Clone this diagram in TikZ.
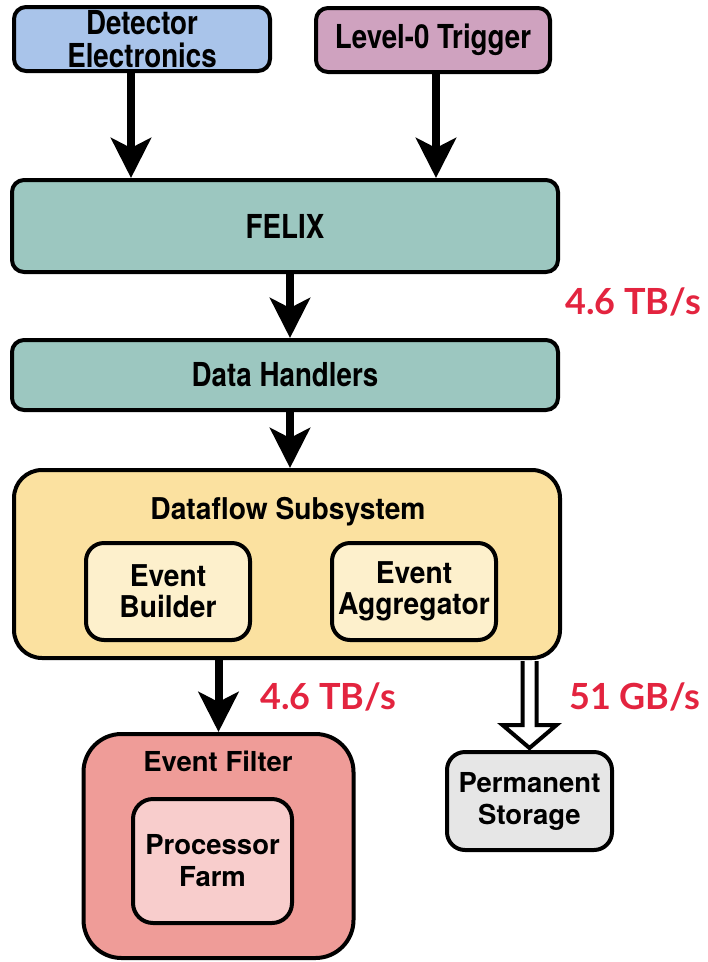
\documentclass[tikz,border=0pt]{standalone}
\usepackage{fontspec}
\usetikzlibrary{arrows.meta,calc}
% Box fonts: Helvetica-like bold, slightly condensed in the upper stages
\newfontfamily\hvA{TeX Gyre Heros}[FakeStretch=0.84]
\newfontfamily\hvB{TeX Gyre Heros}[FakeStretch=0.94]
\newfontfamily\hvC{TeX Gyre Heros}
\newfontfamily\ratefont{Lato}
\definecolor{detblue}{RGB}{169,196,234}
\definecolor{trigmauve}{RGB}{207,162,191}
\definecolor{felixteal}{RGB}{156,199,192}
\definecolor{dfyellow}{RGB}{251,225,160}
\definecolor{dfinner}{RGB}{253,240,204}
\definecolor{efred}{RGB}{239,156,152}
\definecolor{efinner}{RGB}{248,205,204}
\definecolor{storegrey}{RGB}{230,230,230}
\definecolor{ratered}{RGB}{227,36,63}
\begin{document}
\begin{tikzpicture}[x=1pt,y=-1pt,
  box/.style={draw=black, line width=4pt, rounded corners=12pt, inner sep=0pt, align=center},
  tA/.style={font=\hvA\bfseries\fontsize{33}{33}\selectfont},
  tB/.style={font=\hvB\bfseries\fontsize{30}{31}\selectfont},
  tC/.style={font=\hvC\bfseries\fontsize{27.5}{32}\selectfont},
  rate/.style={font=\ratefont\bfseries\fontsize{36}{40}\selectfont, text=ratered, inner sep=0pt},
  flow/.style={draw=black, line width=8pt, -{Stealth[length=40pt,width=40pt,inset=10pt]}},
  hollow/.style={draw=black, line width=4pt, fill=white, line join=miter}
]
\useasboundingbox (0,0) rectangle (708,962);

% Sources
\node[box, tA, fill=detblue, minimum width=256pt, minimum height=64pt] (det) at (142,39) {Detector\\Electronics};
\node[box, tA, fill=trigmauve, minimum width=234pt, minimum height=64pt] (trig) at (433,40) {Level-0 Trigger};

% Readout
\node[box, tA, fill=felixteal, minimum width=546pt, minimum height=92pt] (felix) at (285,226) {FELIX};
\node[box, tA, fill=felixteal, minimum width=546pt, minimum height=70pt] (dh) at (285,375) {Data Handlers};

% Dataflow subsystem
\node[box, fill=dfyellow, rounded corners=28pt, minimum width=546pt, minimum height=188pt] (df) at (287,564) {};
\node[tB, inner sep=0pt] (dftitle) at (288,512) {Dataflow Subsystem};
\node[box, tB, fill=dfinner, rounded corners=18pt, minimum width=164pt, minimum height=97pt] (eb) at (168,591.5) {Event\\Builder};
\node[box, tB, fill=dfinner, rounded corners=18pt, minimum width=164pt, minimum height=97pt] (ea) at (414,591.5) {Event\\Aggregator};

% Event filter
\node[box, fill=efred, rounded corners=38pt, minimum width=270pt, minimum height=224pt] (ef) at (218.5,846) {};
\node[tC, inner sep=0pt] (eftitle) at (218,761) {Event Filter};
\node[box, tC, fill=efinner, rounded corners=20pt, minimum width=159pt, minimum height=124pt] (pf) at (212.5,861) {Processor\\Farm};

% Storage
\node[box, tC, fill=storegrey, rounded corners=18pt, minimum width=165pt, minimum height=98pt] (ps) at (529.5,801) {Permanent\\Storage};

% Data flow arrows
\draw[flow] ([xshift=-11pt]det.south) -- ([xshift=-11pt]det.south |- felix.north);
\draw[flow] ([xshift=3pt]trig.south) -- ([xshift=3pt]trig.south |- felix.north);
\draw[flow] ([xshift=5pt]felix.south) -- ([xshift=5pt]felix.south |- dh.north);
\draw[flow] ([xshift=5pt]dh.south) -- ([xshift=5pt]dh.south |- df.north);
\draw[flow] (df.south -| ef.north) -- (ef.north);

% Hollow block arrow towards storage
\coordinate (hs) at (ps.north |- df.south);
\path[hollow] ($(hs)+(-7,1)$) -- ($(ps.north)+(-7,-25)$) -- ($(ps.north)+(-27,-25)$)
  -- ($(ps.north)+(0,-2)$) -- ($(ps.north)+(27,-25)$) -- ($(ps.north)+(7,-25)$) -- ($(hs)+(7,1)$);

% Bandwidth labels
\node[rate] (r1) at (633,302) {4.6 TB/s};
\node[rate] (r2) at (328,697) {4.6 TB/s};
\node[rate] (r3) at (635,697) {51 GB/s};
\end{tikzpicture}
\end{document}
